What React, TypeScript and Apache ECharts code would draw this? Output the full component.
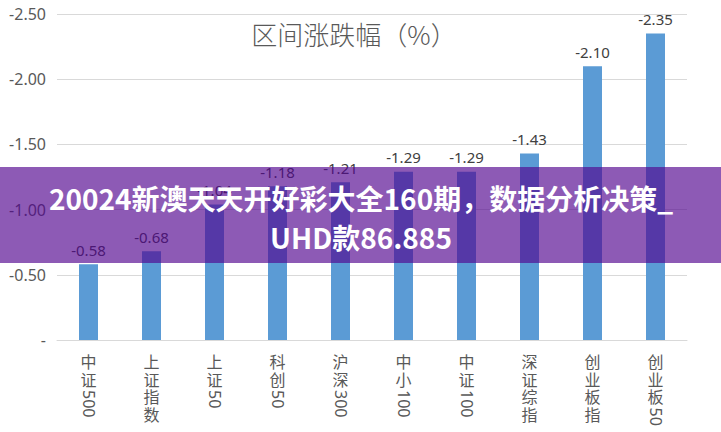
import React, { useEffect, useRef } from "react";
import * as echarts from "echarts";

const categories = ["中证500", "上证指数", "上证50", "科创50", "沪深300", "中小100", "中证100", "深证综指", "创业板指", "创业板50"];
const values = [-0.58, -0.68, -1.04, -1.18, -1.21, -1.29, -1.29, -1.43, -2.10, -2.35];
const titleText = "区间涨跌幅（%）";
const bannerLines = ["20024新澳天天开好彩大全160期，数据分析决策_", "UHD款86.885"];

const FONT = "'Noto Sans', 'Noto Sans CJK SC', sans-serif";

function splitLabel(s: string): { text: string; cjk: boolean }[] {
  const parts: { text: string; cjk: boolean }[] = [];
  let buf = "";
  for (const ch of s) {
    if (/[0-9A-Za-z.]/.test(ch)) {
      buf += ch;
    } else {
      if (buf) { parts.push({ text: buf, cjk: false }); buf = ""; }
      parts.push({ text: ch, cjk: true });
    }
  }
  if (buf) parts.push({ text: buf, cjk: false });
  return parts;
}

export default function App() {
  const ref = useRef<HTMLDivElement>(null);
  useEffect(() => {
    if (!ref.current) return;
    const chart = echarts.init(ref.current, null, { renderer: "svg" });
    const fs = 16;
    chart.setOption({
      animation: false,
      backgroundColor: "#ffffff",
      grid: { left: 57, right: 34, top: 14, bottom: 92 },
      xAxis: {
        type: "category",
        data: categories,
        axisLine: { show: true, lineStyle: { color: "#D9D9D9", width: 1 } },
        axisTick: { show: false },
        axisLabel: { show: false },
      },
      yAxis: {
        type: "value",
        inverse: true,
        min: -2.5,
        max: 0,
        interval: 0.5,
        axisLine: { show: false },
        axisTick: { show: false },
        splitLine: { lineStyle: { color: "#D9D9D9", width: 1 } },
        axisLabel: {
          color: "#595959",
          fontSize: 16,
          fontFamily: FONT,
          margin: 11,
          formatter: (v: number) => (v === 0 ? "-" : v.toFixed(2)),
        },
      },
      series: [
        {
          type: "bar",
          data: values,
          barWidth: 19,
          itemStyle: { color: "#5B9BD5" },
          label: {
            show: true,
            position: "top",
            distance: 7,
            color: "#404040",
            fontSize: 15,
            fontFamily: FONT,
            formatter: (p: any) => p.value.toFixed(2),
          },
        },
        {
          type: "custom",
          silent: true,
          clip: false,
          data: categories.map((c, i) => [i, 0]),
          renderItem: (params: any, api: any) => {
            const idx = api.value(0);
            const pt = api.coord([idx, 0]);
            const label = categories[idx];
            const parts = splitLabel(label);
            const children: any[] = [];
            let y = pt[1] + 14;
            for (const p of parts) {
              if (p.cjk) {
                children.push({
                  type: "text",
                  x: pt[0],
                  y: y,
                  style: {
                    text: p.text,
                    fill: "#595959",
                    fontSize: fs,
                    fontFamily: FONT,
                    align: "center",
                    verticalAlign: "top",
                  },
                });
                y += 17.5;
              } else {
                children.push({
                  type: "text",
                  x: pt[0],
                  y: y + 1,
                  rotation: -Math.PI / 2,
                  style: {
                    text: p.text,
                    fill: "#595959",
                    fontSize: fs,
                    fontFamily: FONT,
                    align: "left",
                    verticalAlign: "middle",
                  },
                });
                y += p.text.length * fs * 0.57 + 2;
              }
            }
            return { type: "group", children };
          },
        },
      ],
      graphic: [
        {
          type: "text",
          x: 354,
          y: 33,
          style: {
            text: titleText,
            fill: "#595959",
            fontSize: 26,
            fontFamily: "'Noto Sans CJK SC', sans-serif",
            fontWeight: 300,
            align: "center",
            verticalAlign: "middle",
          },
        },
        {
          type: "rect",
          shape: { x: 0, y: 167, width: 721, height: 96 },
          style: { fill: "rgba(82, 5, 142, 0.66)" },
          z: 100,
        },
        {
          type: "text",
          x: 361,
          y: 198,
          z: 101,
          style: {
            text: bannerLines[0],
            fill: "#ffffff",
            fontSize: 28,
            fontWeight: "bold",
            fontFamily: "'Noto Sans CJK SC', 'Noto Sans', sans-serif",
            align: "center",
            verticalAlign: "middle",
          },
        },
        {
          type: "text",
          x: 361,
          y: 237,
          z: 101,
          style: {
            text: bannerLines[1],
            fill: "#ffffff",
            fontSize: 28,
            fontWeight: "bold",
            fontFamily: "'Noto Sans CJK SC', 'Noto Sans', sans-serif",
            align: "center",
            verticalAlign: "middle",
          },
        },
      ],
    });
    return () => chart.dispose();
  }, []);
  return <div ref={ref} style={{ width: 721, height: 432, position: "absolute", left: 0, top: 0 }} />;
}
